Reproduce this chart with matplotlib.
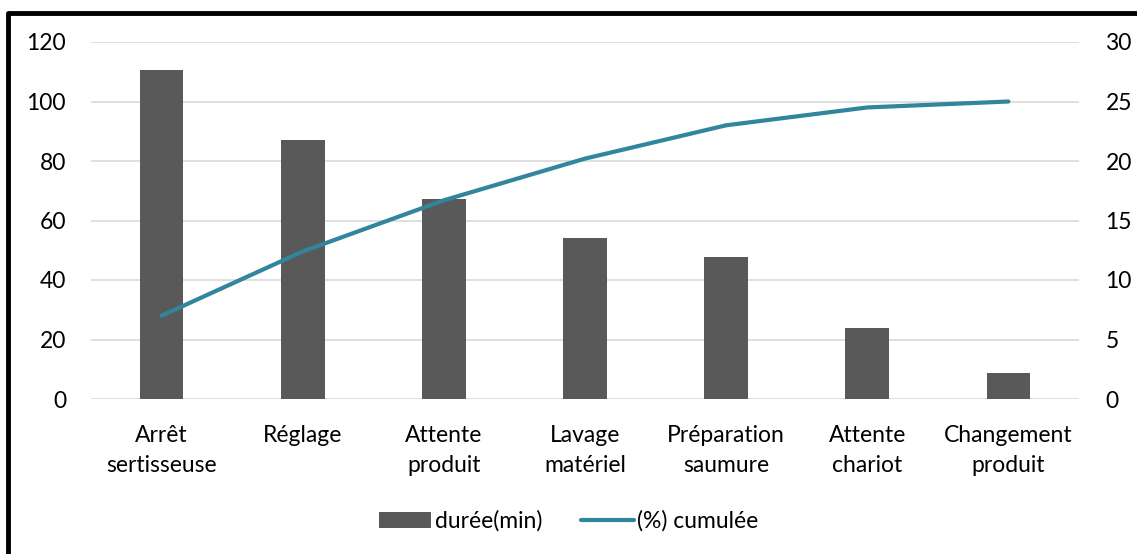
import matplotlib.pyplot as plt
from matplotlib.lines import Line2D
import numpy as np

plt.rcParams['font.family'] = ['Lato', 'DejaVu Sans']

categories = ['Arrêt\nsertisseuse', 'Réglage', 'Attente\nproduit', 'Lavage\nmatériel',
              'Préparation\nsaumure', 'Attente\nchariot', 'Changement\nproduit']
duree = [110.5, 87, 67.3, 54.2, 47.6, 23.9, 8.7]
cumul = [7.0, 12.4, 16.7, 20.2, 23.0, 24.5, 25.0]

bar_color = '#595959'
line_color = '#31859C'
fs = 16.5

fig = plt.figure(figsize=(11.37, 5.54), dpi=100)
ax = fig.add_axes([91 / 1137, 1 - 399 / 554, 988 / 1137, 357 / 554])
ax2 = ax.twinx()

x = np.arange(len(categories))
bars = ax.bar(x, duree, width=0.31, color=bar_color, zorder=2, label='durée(min)')
line, = ax2.plot(x, cumul, color=line_color, linewidth=3, solid_capstyle='round',
                 label='(%) cumulée')

ax.set_xlim(-0.5, len(categories) - 0.5)
ax.set_ylim(0, 120)
ax.set_yticks(range(0, 121, 20))
ax2.set_ylim(0, 30)
ax2.set_yticks(range(0, 31, 5))

ax.yaxis.grid(True, color='#D9D9D9', linewidth=1.2, zorder=0)
ax.set_axisbelow(True)
ax.set_xticks(x)
ax.set_xticklabels(categories, fontsize=fs, linespacing=1.5)

for a in (ax, ax2):
    for s in a.spines.values():
        s.set_visible(False)
    a.tick_params(length=0, labelsize=fs, colors='black')
ax.tick_params(axis='y', pad=18)
ax.tick_params(axis='x', pad=19)
ax2.tick_params(axis='y', pad=19)

fig.legend(handles=[bars, line], loc='center', bbox_to_anchor=(0.5, 1 - 521 / 554),
           ncol=2, frameon=False, fontsize=fs, handlelength=2.3, handletextpad=0.15,
           columnspacing=1.7)

# cadre noir autour du graphique
fig.add_artist(Line2D([8 / 1137, 8 / 1137, 1.0], [0.0, 1 - 13 / 554, 1 - 13 / 554],
                      transform=fig.transFigure, color='black', linewidth=3.5))

fig.savefig('out.png', dpi=100)
